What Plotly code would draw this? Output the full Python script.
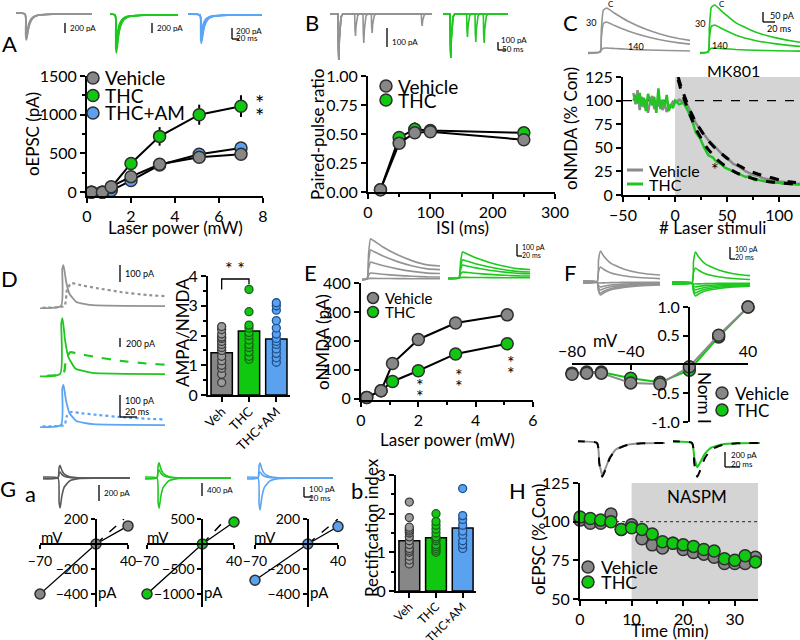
import plotly.graph_objects as go

W, H = 800, 640
FONT = "Lato"
BLACK = "#000000"
EDGE = "#2e2e2e"
GRAY = "#878787"
GREEN = "#10c810"
BLUE = "#5aa2f0"
TGRAY = "#939393"
DGRAY = "#5a5a5a"
TGREEN = "#1ec81e"
TBLUE = "#5aa5f5"
SHADE = "#d4d4d4"

# ---------------- data ----------------
# A
a_power = [0.2, 0.7, 1.1, 2.0, 3.3, 5.1, 7.0]
a_veh = [0, 0, 70, 200, 360, 450, 490]
a_veh_err = [5, 8, 20, 35, 40, 40, 45]
a_thc = [0, 0, 60, 370, 720, 1000, 1110]
a_thc_err = [5, 8, 20, 50, 120, 130, 140]
a_am = [0, 0, 20, 150, 350, 490, 570]
a_am_err = [5, 8, 15, 30, 40, 45, 50]
# B
b_isi = [20, 50, 75, 100, 250]
b_veh = [0.02, 0.42, 0.51, 0.52, 0.45]
b_veh_err = [0.01, 0.03, 0.04, 0.03, 0.03]
b_thc = [0.02, 0.47, 0.54, 0.53, 0.51]
b_thc_err = [0.01, 0.03, 0.06, 0.04, 0.03]
# C
c_base_x = [-40, -38, -36, -34, -32, -30, -28, -26, -24, -22, -20, -18, -16, -14, -12, -10, -8, -6, -4, -2]
c_decay_x = [0, 4, 8, 12, 16, 20, 24, 28, 32, 36, 40, 44, 48, 52, 56, 60, 64, 68, 72, 76, 80, 84, 88, 92, 96, 100, 104, 108, 112, 116, 120]
c_veh_base = [108, 96, 111, 90, 104, 93, 101, 87, 99, 105, 91, 97, 94, 100, 90, 97, 88, 92, 96, 99]
c_veh_decay = [98, 101, 99, 95, 86, 76, 70, 64, 58, 54, 49, 44, 40, 37, 33, 31, 28, 25, 23, 21, 20, 18, 17, 16, 15, 14, 14, 13, 13, 12, 12]
c_thc_base = [100, 106, 97, 108, 94, 103, 89, 107, 100, 95, 104, 87, 113, 91, 101, 94, 106, 89, 96, 92]
c_thc_decay = [100, 96, 98, 90, 80, 66, 60, 50, 42, 40, 35, 33, 29, 27, 25, 23, 21, 19, 20, 16, 16, 15, 14, 14, 13, 13, 12, 12, 12, 11, 11]
c_fit_x = [3, 6, 10, 15, 20, 30, 40, 50, 60, 70, 80, 90, 100, 110, 120]
c_veh_fit = [125, 114, 102, 88, 77, 60, 48, 39, 32, 26, 22, 19, 16, 14, 13]
c_thc_fit = [122, 110, 98, 83, 70, 51, 38, 29, 23, 19, 16, 14, 13, 12, 11]
# D
d_groups = ["Veh", "THC", "THC+AM"]
d_mean = [1.42, 2.15, 1.88]
d_sem = [0.12, 0.18, 0.13]
d_veh_pts = [0.42, 0.7, 0.9, 1.0, 1.15, 1.3, 1.5, 1.6, 1.7, 1.8, 1.9, 1.95, 2.05, 2.2, 2.3]
d_thc_pts = [1.2, 1.3, 1.45, 1.6, 1.7, 1.85, 2.0, 2.1, 2.25, 2.35, 2.8, 3.55]
d_am_pts = [1.1, 1.25, 1.4, 1.55, 1.7, 1.8, 1.9, 2.05, 2.25, 2.5, 2.85, 3.0, 3.1]
# E
e_power = [0.2, 0.7, 1.1, 2.0, 3.3, 5.1]
e_veh = [5, 28, 122, 205, 262, 290]
e_veh_err = [3, 8, 15, 22, 18, 20]
e_thc = [5, 28, 60, 97, 155, 190]
e_thc_err = [3, 6, 8, 12, 12, 14]
# F
f_mv = [-80, -70, -60, -40, -20, 0, 20, 40]
f_veh = [-0.17, -0.15, -0.15, -0.32, -0.34, -0.04, 0.51, 1.0]
f_thc = [-0.15, -0.13, -0.13, -0.24, -0.31, -0.10, 0.48, 1.0]
# G a
g_mv = [-70, 0, 40]
g_veh_i = [-400, 0, 145]
g_thc_i = [-1000, 0, 440]
g_am_i = [-290, 0, 140]
g_veh_ext_mv, g_veh_ext = [0, 35], [0, 200]
g_thc_ext_mv, g_thc_ext = [0, 37], [0, 620]
g_am_ext_mv, g_am_ext = [0, 40], [0, 200]
# G b
gb_mean = [1.3, 1.38, 1.63]
gb_sem = [0.08, 0.06, 0.14]
gb_veh_pts = [0.7, 0.8, 0.9, 1.0, 1.05, 1.1, 1.2, 1.3, 1.4, 1.5, 1.55, 1.6, 1.65, 1.9, 2.3]
gb_thc_pts = [1.0, 1.05, 1.1, 1.15, 1.2, 1.3, 1.35, 1.4, 1.5, 1.6, 1.7, 1.8, 2.0]
gb_am_pts = [1.1, 1.2, 1.3, 1.45, 1.55, 1.7, 1.85, 1.95, 2.65]
# H
h_time = [0, 2, 4, 6, 8, 10, 12, 14, 16, 18, 20, 22, 24, 26, 28, 30, 32, 34]
h_veh = [101, 99, 99, 105, 95, 98, 89, 85, 83, 86, 82, 80, 79, 77, 73, 73, 73, 77]
h_veh_err = [1, 1, 1, 2, 1, 1, 2, 2, 2, 2, 2, 2, 2, 2, 2, 2, 2, 3]
h_thc = [103, 102, 101, 100, 95, 96, 95, 92, 87, 86, 85, 84, 82, 81, 76, 75, 78, 74]
h_thc_err = [1, 1, 1, 1, 1, 1, 2, 2, 2, 3, 2, 2, 2, 2, 2, 2, 2, 4]

# example current traces (time in ms relative to onset, normalised shapes, amplitudes in pA)
a_tr_t = [-100, 0, 2, 4, 7, 11, 17, 25, 38, 60, 100, 300]
a_tr_shape = [0, 0, -0.85, -1.0, -0.8, -0.5, -0.27, -0.13, -0.05, -0.02, 0, 0]
a_tr_veh_amp = [380, 440, 500, 520]
a_tr_thc_amp = [440, 520, 600, 680, 760]
a_tr_am_amp = [260, 330, 400, 460, 510]

b_ev_t = [0, 1, 2.5, 4, 6, 9, 14]
b_ev_shape = [0, -0.7, -1.0, -0.55, -0.22, -0.07, 0]
b_tr_veh_isi = [50, 75, 100, 250]
b_tr_veh_a1 = 242
b_tr_veh_a2 = [116, 152, 100, 63]
b_tr_thc_isi = [50, 75, 100]
b_tr_thc_a1 = 231
b_tr_thc_a2 = [121, 147, 152]

c_tr_t = [-100, 0, 2, 5, 10, 22, 42, 72, 102, 142, 300]
c_tr_veh_shape = [0, 0, 0.5, 0.95, 1.0, 0.88, 0.7, 0.5, 0.36, 0.25, 0.1]
c_tr_thc_shape = [0, 0, 0.5, 0.95, 1.0, 0.85, 0.62, 0.42, 0.3, 0.2, 0.08]
c_tr_veh_amp = [220, 150, 20]
c_tr_thc_amp = [235, 135, 20]

d_tr_ampa_t = [-100, 0, 1.5, 3, 6, 10, 18, 38, 300]
d_tr_ampa_shape = [0, 0, 0.9, 1.0, 0.6, 0.3, 0.1, 0.02, 0]
d_tr_nmda_t = [-100, 4, 7, 12, 22, 42, 72, 102, 127, 300]
d_tr_nmda_shape = [0, 0, 0.7, 1.0, 0.92, 0.78, 0.6, 0.48, 0.42, 0.3]
d_tr_ampa_amp = [273, 1230, 333]
d_tr_nmda_amp = [153, 480, 108]

e_tr_t = [-100, 0, 6, 14, 27, 62, 122, 182, 242, 400]
e_tr_shape = [0, 0, 0.6, 1.0, 0.95, 0.8, 0.6, 0.45, 0.35, 0.28]
e_tr_veh_amp = [310, 223, 130, 46, 5]
e_tr_thc_amp = [200, 140, 100, 46, 5]

f_tr_t = [-100, 0, 3, 7, 13, 28, 53, 83, 129, 300]
f_tr_shape = [0, 0, 0.7, 1.0, 0.85, 0.6, 0.42, 0.3, 0.22, 0.1]
f_tr_veh_amp = [310, 150, -10, -50, -80, -110, -130]
f_tr_thc_amp = [310, 150, -10, -40, -70, -100, -130]

g_tr_t = [-100, 0, 3, 6, 11, 18, 33, 58, 300]
g_tr_shape = [0, 0, 0.8, 1.0, 0.6, 0.3, 0.1, 0.02, 0]
g_tr_veh_amp = [-375, 160, 75]
g_tr_thc_amp = [-1000, 500, 260]
g_tr_am_amp = [-320, 150, 60]

h_tr_t = [-100, 0, 3, 7, 11, 17, 25, 40, 60, 300]
h_tr_shape = [0, 0, -0.6, -1.0, -0.8, -0.45, -0.2, -0.06, -0.01, 0]
h_tr_veh_ctrl, h_tr_veh_naspm = 450, 430
h_tr_thc_ctrl, h_tr_thc_naspm = 450, 320

# ---------------- helpers ----------------
fig = go.Figure()
lay, shapes, annos = {}, [], []
_n = [0]


def new_axes(x0, x1, y0, y1, xa, ya):
    _n[0] += 1
    s = "" if _n[0] == 1 else str(_n[0])
    xa = dict(xa)
    ya = dict(ya)
    xa["domain"] = [x0 / W, x1 / W]
    ya["domain"] = [1 - y1 / H, 1 - y0 / H]
    xa.setdefault("anchor", "y" + s)
    ya.setdefault("anchor", "x" + s)
    xa["automargin"] = False
    ya["automargin"] = False
    lay["xaxis" + s] = xa
    lay["yaxis" + s] = ya
    return "x" + s, "y" + s


def ax(rng, tickvals=None, ticktext=None, dtick=None, minor=None, size=16, **kw):
    d = dict(range=rng, showline=True, linecolor=BLACK, linewidth=2, ticks="outside",
             ticklen=5, tickwidth=2, tickcolor=BLACK, showgrid=False, zeroline=False,
             tickfont=dict(family=FONT, size=size, color=BLACK), fixedrange=True)
    if tickvals is not None:
        d["tickvals"] = tickvals
    if ticktext is not None:
        d["ticktext"] = ticktext
    if dtick is not None:
        d["dtick"] = dtick
        d["tick0"] = 0
    if minor:
        d["minor"] = dict(ticks="outside", ticklen=3, tickwidth=2, tickcolor=BLACK,
                          dtick=minor, tick0=0)
    d.update(kw)
    return d


HID = dict(visible=False, fixedrange=True)


def inset(x0, x1, y0, y1, onset_px, base_py, ms_px, pa_px):
    xr = [(x0 - onset_px) * ms_px, (x1 - onset_px) * ms_px]
    yr = [-(y1 - base_py) * pa_px, (base_py - y0) * pa_px]
    return new_axes(x0, x1, y0, y1, dict(HID, range=xr), dict(HID, range=yr))


def wave(xa, ya, t, v, color, width=1.6, dash=None, spline=True):
    fig.add_trace(go.Scatter(
        x=t, y=v, xaxis=xa, yaxis=ya, mode="lines",
        line=dict(color=color, width=width, dash=dash,
                  shape="spline" if spline else "linear", smoothing=0.4),
        hoverinfo="skip", showlegend=False))


def scaled(shape, amp):
    return [amp * s for s in shape]


def series(xa, ya, x, y, err, fill, line_color=BLACK, size=12, mode="lines+markers", lw=2):
    fig.add_trace(go.Scatter(
        x=x, y=y, xaxis=xa, yaxis=ya, mode=mode,
        line=dict(color=line_color, width=lw),
        marker=dict(size=size, color=fill, line=dict(color=EDGE, width=1.5)),
        error_y=dict(type="data", array=err, color=BLACK, thickness=2, width=0) if err else None,
        showlegend=False, cliponaxis=False))


def text(px, py, s, size=17, xanchor="center", angle=0, color=BLACK):
    annos.append(dict(x=px / W, y=1 - py / H, xref="paper", yref="paper", text=s,
                      showarrow=False, xanchor=xanchor, yanchor="middle", textangle=angle,
                      font=dict(family=FONT, size=size, color=color)))


def circle(px, py, r, fill):
    shapes.append(dict(type="circle", xref="paper", yref="paper",
                       x0=(px - r) / W, x1=(px + r) / W, y0=1 - (py + r) / H, y1=1 - (py - r) / H,
                       fillcolor=fill, line=dict(color=EDGE, width=1.5)))


def pline(x0, y0, x1, y1, color=BLACK, width=1.5, dash=None):
    shapes.append(dict(type="line", xref="paper", yref="paper",
                       x0=x0 / W, y0=1 - y0 / H, x1=x1 / W, y1=1 - y1 / H,
                       line=dict(color=color, width=width, dash=dash)))


def sbar(x, ytop, ybot, h=0):
    pline(x, ytop, x, ybot, width=1.3)
    if h:
        pline(x, ybot, x + h, ybot, width=1.3)


def bars_with_dots(xa, ya, means, sems, groups_pts, fills, edges, dot_fills):
    fig.add_trace(go.Bar(
        x=[0, 1, 2], y=means, xaxis=xa, yaxis=ya, width=0.78,
        marker=dict(color=fills, line=dict(color=BLACK, width=1.5)),
        error_y=dict(type="data", symmetric=False, array=sems, arrayminus=[0, 0, 0],
                     color=BLACK, thickness=2, width=4),
        showlegend=False, hoverinfo="skip"))
    for i, pts in enumerate(groups_pts):
        fig.add_trace(go.Scatter(
            x=[i] * len(pts), y=pts, xaxis=xa, yaxis=ya, mode="markers",
            marker=dict(size=8, color=dot_fills[i], line=dict(color=edges[i], width=1.3)),
            showlegend=False, cliponaxis=False))


# ---------------- Panel A ----------------
xa, ya = new_axes(87, 263, 76, 196, ax([0, 8], dtick=2),
                  ax([-50, 1500], tickvals=[0, 500, 1000, 1500], minor=250))
series(xa, ya, a_power, a_am, a_am_err, BLUE)
series(xa, ya, a_power, a_thc, a_thc_err, GREEN)
series(xa, ya, a_power, a_veh, a_veh_err, GRAY)
for i, (lab, c) in enumerate((("Vehicle", GRAY), ("THC", GREEN), ("THC+AM", BLUE))):
    circle(93, 78 + 17.5 * i, 6, c)
    text(103, 78 + 17.5 * i, lab, 19, "left")
text(259, 103, "*", 22)
text(259, 115, "*", 22)
text(175, 228, "Laser power (mW)", 17)
text(32, 134, "oEPSC (pA)", 17, angle=-90)
text(9, 44, "A", 22)

xa, ya = inset(16, 92, 8, 56, 25, 14, 2.86, 20)
for a in a_tr_veh_amp:
    wave(xa, ya, a_tr_t, scaled(a_tr_shape, a), TGRAY)
xa, ya = inset(110, 178, 8, 60, 115, 15, 2.86, 20)
for a in a_tr_thc_amp:
    wave(xa, ya, a_tr_t, scaled(a_tr_shape, a), TGREEN)
xa, ya = inset(188, 262, 8, 56, 200, 15, 2.86, 18)
for a in a_tr_am_amp:
    wave(xa, ya, a_tr_t, scaled(a_tr_shape, a), TBLUE)
sbar(65, 23, 33)
text(68, 28, "200 pA", 8, "left")
sbar(152, 23, 33)
text(155, 28, "200 pA", 8, "left")
sbar(232, 28, 39, 7)
text(234, 31, "200 pA", 8, "left")
text(234, 38, "20 ms", 8, "left")

# ---------------- Panel B ----------------
xa, ya = new_axes(368, 555, 76, 192, ax([0, 300], dtick=100, minor=50),
                  ax([0, 1.0], dtick=0.25, tickformat=".2f"))
series(xa, ya, b_isi, b_thc, b_thc_err, GREEN)
series(xa, ya, b_isi, b_veh, b_veh_err, GRAY)
circle(386, 86, 6, GRAY)
text(396, 86, "Vehicle", 19, "left")
circle(386, 100, 6, GREEN)
text(396, 100, "THC", 19, "left")
text(462, 228, "ISI (ms)", 17)
text(317, 135, "Paired-pulse ratio", 17, angle=-90)
text(312, 23, "B", 22)


def paired(isi, a1, a2):
    t, v = [-100.0], [0.0]
    for t0, amp in ((0, a1), (isi, a2)):
        for dt, s in zip(b_ev_t, b_ev_shape):
            t.append(t0 + dt)
            v.append(amp * s)
    t.append(600)
    v.append(0)
    return t, v


xa, ya = inset(330, 432, 8, 66, 338, 14, 3, 5.26)
for isi, a2 in zip(b_tr_veh_isi, b_tr_veh_a2):
    t, v = paired(isi, b_tr_veh_a1, a2)
    wave(xa, ya, t, v, TGRAY, spline=False)
xa, ya = inset(443, 508, 8, 66, 450, 14, 3, 5.26)
for isi, a2 in zip(b_tr_thc_isi, b_tr_thc_a2):
    t, v = paired(isi, b_tr_thc_a1, a2)
    wave(xa, ya, t, v, TGREEN, spline=False)
sbar(387, 28, 47)
text(390, 42, "100 pA", 8, "left")
sbar(498, 42, 50, 8)
text(499, 40, "100 pA", 8, "left")
text(500, 49, "50 ms", 8, "left")

# ---------------- Panel C ----------------
xa, ya = new_axes(623, 800, 77, 195, ax([-50, 120], tickvals=[-50, 0, 50, 100], minor=25),
                  ax([0, 125], dtick=25))
shapes.append(dict(type="rect", xref=xa, yref=ya, x0=0, x1=120, y0=0, y1=125,
                   fillcolor=SHADE, line=dict(width=0), layer="below"))
shapes.append(dict(type="line", xref=xa, yref=ya, x0=-50, x1=120, y0=100, y1=100,
                   line=dict(color=BLACK, width=1.3, dash="dash"), layer="below"))
wave(xa, ya, c_base_x + c_decay_x, c_veh_base + c_veh_decay, "#8a8a8a", 2.5, spline=False)
wave(xa, ya, c_base_x + c_decay_x, c_thc_base + c_thc_decay, "#22c322", 2.5, spline=False)
wave(xa, ya, c_fit_x, c_veh_fit, BLACK, 3, "dash")
wave(xa, ya, c_fit_x, c_thc_fit, BLACK, 3, "dash")
text(733, 70, "MK801", 16)
text(715, 169, "*", 18)
pline(627, 170, 643, 170, "#8a8a8a", 3)
text(647, 170, "Vehicle", 16, "left")
pline(627, 184, 643, 184, "#22c322", 3)
text(647, 184, "THC", 16, "left")
text(712, 228, "# Laser stimuli", 17)
text(570, 129, "oNMDA (% Con)", 17, angle=-90)
text(570, 23, "C", 22)

xa, ya = inset(588, 690, 2, 58, 600, 52, 1.5, 5)
for a in c_tr_veh_amp:
    wave(xa, ya, c_tr_t, scaled(c_tr_veh_shape, a), TGRAY)
xa, ya = inset(700, 800, 2, 58, 708, 52, 1.5, 5)
for a in c_tr_thc_amp:
    wave(xa, ya, c_tr_t, scaled(c_tr_thc_shape, a), TGREEN)
text(611, 4, "C", 8)
text(591, 22, "30", 9)
text(636, 46, "140", 9)
text(722, 4, "C", 8)
text(700, 24, "30", 9)
text(720, 45, "140", 9)
sbar(763, 12, 22, 12)
text(768, 15, "50 pA", 9, "left")
text(765, 29, "20 ms", 9, "left")

# ---------------- Panel D ----------------
xa, ya = new_axes(208, 290, 276, 395,
                  ax([-0.5, 2.5], tickvals=[0, 1, 2], ticktext=d_groups, tickangle=-45,
                     size=13, ticklabelstandoff=-3),
                  ax([0, 4], dtick=1, minor=0.5))
bars_with_dots(xa, ya, d_mean, d_sem, [d_veh_pts, d_thc_pts, d_am_pts],
               [GRAY, GREEN, BLUE], ["#3a3a3a", "#1c5e1c", "#1f4f8a"],
               ["#9c9c9c", GREEN, BLUE])
shapes.append(dict(type="path", xref=xa, yref=ya, path="M 0 3.55 L 0 3.9 L 1 3.9 L 1 3.72",
                   line=dict(color=BLACK, width=1.3)))
text(235, 268, "* *", 18)
text(182, 333, "AMPA/NMDA", 17, angle=-90)
text(9, 278, "D", 22)

for (y0, y1, base, pa, onset, col, dash, amp_i) in (
        (256, 312, 306, 6.67, 61, TGRAY, "dot", 0),
        (312, 380, 374, 22, 60, TGREEN, "dash", 1),
        (380, 430, 425, 8.3, 61, TBLUE, "dot", 2)):
    xa, ya = inset(40, 165, y0, y1, onset, base, 1.18, pa)
    wave(xa, ya, d_tr_nmda_t, scaled(d_tr_nmda_shape, d_tr_nmda_amp[amp_i]), col, 2.2, dash)
    wave(xa, ya, d_tr_ampa_t, scaled(d_tr_ampa_shape, d_tr_ampa_amp[amp_i]), col, 1.8)
sbar(120, 265, 282)
text(123, 273, "100 pA", 9, "left")
sbar(120, 338, 347)
text(124, 343, "200 pA", 9, "left")
sbar(120, 395, 417, 17)
text(123, 400, "100 pA", 9, "left")
text(123, 411, "20 ms", 9, "left")

# ---------------- Panel E ----------------
xa, ya = new_axes(361, 533, 283, 400, ax([0, 6], dtick=2, minor=1),
                  ax([-4, 400], tickvals=[0, 100, 200, 300, 400]))
series(xa, ya, e_power, e_thc, e_thc_err, GREEN)
series(xa, ya, e_power, e_veh, e_veh_err, GRAY)
circle(373, 298, 5.5, GRAY)
text(383, 298, "Vehicle", 15, "left")
circle(373, 312, 5.5, GREEN)
text(383, 312, "THC", 15, "left")
for sx, sy in ((420, 385), (420, 396), (459, 375), (459, 386), (511, 362), (511, 373)):
    text(sx, sy, "*", 18)
text(447, 439, "Laser power (mW)", 17)
text(322, 342, "oNMDA (pA)", 17, angle=-90)
text(310, 272, "E", 22)

xa, ya = inset(362, 440, 230, 284, 367, 279, 4, 7.7)
for a in e_tr_veh_amp:
    wave(xa, ya, e_tr_t, scaled(e_tr_shape, a), TGRAY)
xa, ya = inset(448, 530, 240, 284, 459, 278, 4, 7.7)
for a in e_tr_thc_amp:
    wave(xa, ya, e_tr_t, scaled(e_tr_shape, a), TGREEN)
sbar(517, 244, 256, 5)
text(520, 247, "100 pA", 7, "left")
text(520, 255, "20 ms", 7, "left")

# ---------------- Panel F ----------------
xa, ya = new_axes(572, 748, 307, 422,
                  ax([-80, 40], tickvals=[-80, -40, 40], side="top", anchor="free",
                     position=1 - 364 / H, ticks="inside"),
                  ax([-1, 1], tickvals=[-1, -0.5, 0.5, 1],
                     ticktext=["-1.0", "-0.5", "0.5", "1.0"], anchor="free", position=689 / W))
series(xa, ya, f_mv, f_thc, None, GREEN, line_color=GREEN, size=12)
series(xa, ya, f_mv, f_veh, None, GRAY, line_color="#8a8a8a", size=12)
text(605, 340, "mV", 17)
text(705, 398, "Norm I", 17, angle=90)
circle(722, 393, 6, GRAY)
text(733, 393, "Vehicle", 17, "left")
circle(722, 410, 6, GREEN)
text(733, 410, "THC", 17, "left")
text(570, 272, "F", 22)

xa, ya = inset(583, 660, 240, 300, 597, 282, 2, 10)
for a in f_tr_veh_amp:
    wave(xa, ya, f_tr_t, scaled(f_tr_shape, a), TGRAY)
xa, ya = inset(672, 750, 240, 300, 692, 283, 2, 10)
for a in f_tr_thc_amp:
    wave(xa, ya, f_tr_t, scaled(f_tr_shape, a), TGREEN)
sbar(730, 247, 259, 5)
text(733, 249, "100 pA", 7, "left")
text(733, 257, "20 ms", 7, "left")

# ---------------- Panel G a ----------------
for (x0, x1, yr, ytv, yi, ext_mv, ext_i, col, trcol, tramp, tx0, tx1, onset, papx) in (
        (40, 128, [-500, 200], [200, -200, -400], g_veh_i, g_veh_ext_mv, g_veh_ext, GRAY,
         DGRAY, g_tr_veh_amp, 43, 130, 58, 12.5),
        (147, 234, [-1250, 500], [500, -500, -1000], g_thc_i, g_thc_ext_mv, g_thc_ext, GREEN,
         TGREEN, g_tr_thc_amp, 145, 231, 157, 33),
        (255, 338, [-500, 200], [200, -200, -400], g_am_i, g_am_ext_mv, g_am_ext, BLUE,
         TBLUE, g_tr_am_amp, 247, 333, 258, 10)):
    ypos = (x0 + (0 + 70) / 110 * (x1 - x0)) / W
    xa, ya = new_axes(x0, x1, 519, 606.5,
                      ax([-70, 40], tickvals=[-70, 40], size=14, anchor="free",
                         position=1 - 544 / H, ticklen=4),
                      ax(yr, tickvals=ytv, size=14, anchor="free", position=ypos, ticklen=4))
    wave(xa, ya, ext_mv, ext_i, BLACK, 1.5, "dash", spline=False)
    series(xa, ya, g_mv, yi, None, col, line_color=BLACK, size=10, lw=1.3)
    txa, tya = inset(tx0, tx1, 458, 514, onset, 478, 2.86, papx)
    for a in tramp:
        wave(txa, tya, g_tr_t, scaled(g_tr_shape, a), trcol)
for mx, px in ((52, 107), (158, 213), (265, 319)):
    text(mx, 537, "mV", 15)
    text(px, 592, "pA", 15)
sbar(99, 485, 501)
text(102, 493, "200 pA", 8, "left")
sbar(202, 483, 496)
text(205, 490, "400 pA", 8, "left")
sbar(304, 487, 497, 8)
text(307, 489, "100 pA", 8, "left")
text(307, 498, "20 ms", 8, "left")
text(8, 488, "G", 22)
text(30, 493, "a", 22)

# ---------------- Panel G b ----------------
xa, ya = new_axes(396, 476, 475, 591,
                  ax([-0.5, 2.5], tickvals=[0, 1, 2], ticktext=d_groups, tickangle=-45,
                     size=12, ticklabelstandoff=-3),
                  ax([0, 3], dtick=1, minor=0.5))
bars_with_dots(xa, ya, gb_mean, gb_sem, [gb_veh_pts, gb_thc_pts, gb_am_pts],
               [GRAY, GREEN, BLUE], ["#3a3a3a", "#1c5e1c", "#1f4f8a"],
               ["#9c9c9c", GREEN, BLUE])
text(371, 528, "Rectification index", 17, angle=-90)
text(357, 490, "b", 22)

# ---------------- Panel H ----------------
xa, ya = new_axes(580, 758, 483, 599, ax([0, 34.5], dtick=10, minor=5), ax([50, 125], dtick=25))
shapes.append(dict(type="rect", xref=xa, yref=ya, x0=10, x1=34.5, y0=50, y1=125,
                   fillcolor=SHADE, line=dict(width=0), layer="below"))
shapes.append(dict(type="line", xref=xa, yref=ya, x0=7, x1=34.5, y0=100, y1=100,
                   line=dict(color="#444444", width=1.3, dash="dot"), layer="below"))
series(xa, ya, h_time, h_veh, h_veh_err, GRAY, mode="markers", size=12)
series(xa, ya, h_time, h_thc, h_thc_err, GREEN, mode="markers", size=12)
text(697, 496, "NASPM", 17)
circle(588, 567, 6, GRAY)
text(599, 567, "Vehicle", 18, "left")
circle(588, 582, 6, GREEN)
text(599, 582, "THC", 18, "left")
text(670, 630, "Time (min)", 17)
text(538, 540, "oEPSC (% Con)", 17, angle=-90)
text(517, 490, "H", 22)

xa, ya = inset(578, 665, 436, 484, 597, 443, 1.33, 13.3)
wave(xa, ya, h_tr_t, scaled(h_tr_shape, h_tr_veh_naspm), TGRAY, 2)
wave(xa, ya, h_tr_t, scaled(h_tr_shape, h_tr_veh_ctrl), BLACK, 2, "dash")
xa, ya = inset(673, 760, 436, 484, 692, 443, 1.33, 13.3)
wave(xa, ya, h_tr_t, scaled(h_tr_shape, h_tr_thc_naspm), TGREEN, 2)
wave(xa, ya, h_tr_t, scaled(h_tr_shape, h_tr_thc_ctrl), BLACK, 2, "dash")
sbar(725, 452, 467, 15)
text(729, 455, "200 pA", 8, "left")
text(729, 464, "20 ms", 8, "left")

fig.update_layout(width=W, height=H, margin=dict(l=0, r=0, t=0, b=0),
                  paper_bgcolor="white", plot_bgcolor="rgba(0,0,0,0)", showlegend=False,
                  shapes=shapes, annotations=annos, font=dict(family=FONT, color=BLACK),
                  **lay)
fig.write_html("out.html", config={"displayModeBar": False, "staticPlot": True},
               post_script="document.body.style.margin='0px';document.body.style.overflow='hidden';")
